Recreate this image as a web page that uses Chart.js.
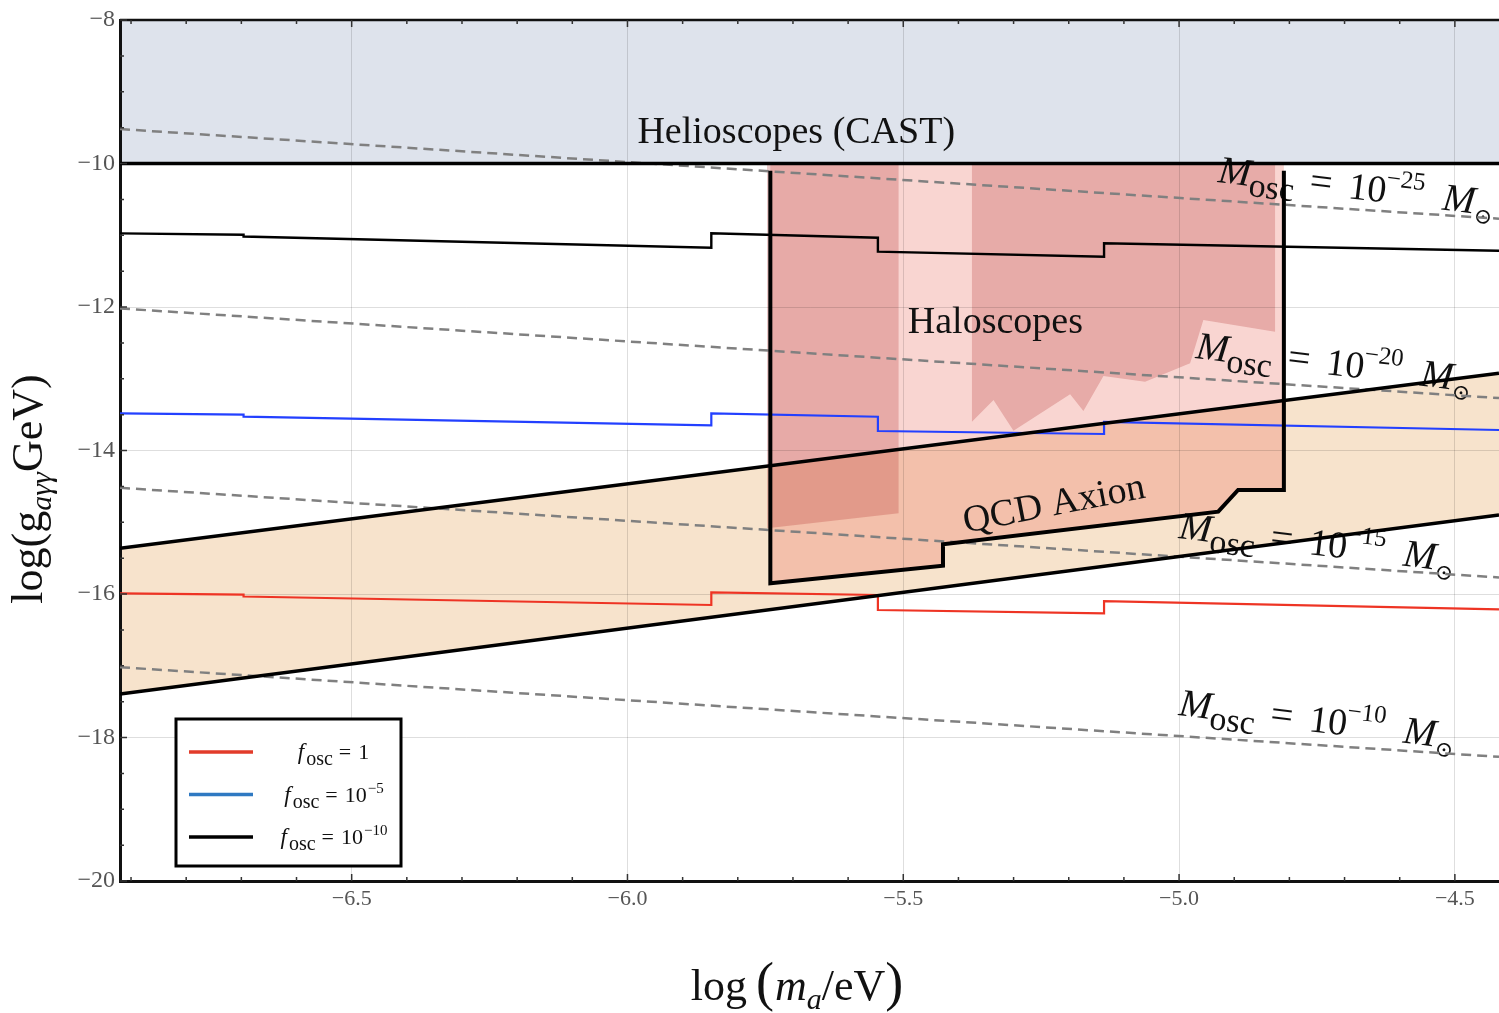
<!DOCTYPE html>
<html>
<head>
<meta charset="utf-8">
<title>Axion-photon coupling limits</title>
<script src="https://cdn.jsdelivr.net/npm/chart.js@4.4.1/dist/chart.umd.min.js"></script>
<style>
  html, body { margin: 0; padding: 0; background: #fff; }
  canvas { display: block; }
</style>
</head>
<body>
<canvas id="chart" width="1499" height="1013"></canvas>
<script>
// axis ranges and labelled ticks
const xRange = [-6.92, -4.42];
const yRange = [-20, -8];
const xTickLabels = [-6.5, -6.0, -5.5, -5.0, -4.5];
const yTickLabels = [-8, -10, -12, -14, -16, -18, -20];

// helioscope (CAST) bound
const helioX = [-6.92, -4.42];
const helioY = [-10, -10];

// QCD axion band edges
const qcdX = [-6.92, -4.42];
const qcdUpper = [-15.364, -12.923];
const qcdLower = [-17.394, -14.899];

// haloscope exclusion outline (open at the top)
const haloX = [-5.741, -5.741, -5.428, -5.428, -4.929, -4.893, -4.810, -4.810];
const haloY = [-10.10, -15.851, -15.606, -15.307, -14.853, -14.550, -14.550, -10.10];
const haloFillY = [-10.02, -15.851, -15.606, -15.307, -14.853, -14.550, -14.550, -10.02];

// darker haloscope patches
const darkAX = [-5.747, -5.747, -5.5085, -5.5085];
const darkAY = [-10.02, -15.084, -14.875, -10.02];
const darkBX = [-5.3755, -5.3755, -5.3364, -5.3002, -5.1975, -5.1734, -5.1371, -5.0616, -4.980, -4.956, -4.826, -4.826];
const darkBY = [-10.02, -13.598, -13.296, -13.724, -13.217, -13.449, -12.962, -13.041, -12.785, -12.181, -12.344, -10.02];

// constant oscillon-mass lines
const moscX = [-6.92, -4.42];
const mosc25 = [-9.52, -10.77];
const mosc20 = [-12.02, -13.27];
const mosc15 = [-14.52, -15.77];
const mosc10 = [-17.02, -18.27];

// f_osc curves
const foscX = [-6.92, -6.696, -6.696, -5.848, -5.848, -5.546, -5.546, -5.136, -5.136, -4.42];
const fosc1 = [-15.99, -16.008, -16.035, -16.153, -15.976, -16.014, -16.223, -16.27, -16.098, -16.214];
const fosc5 = [-13.482, -13.50, -13.527, -13.649, -13.482, -13.529, -13.728, -13.77, -13.60, -13.714];
const fosc10 = [-10.974, -10.992, -11.018, -11.173, -10.973, -11.034, -11.229, -11.299, -11.112, -11.215];

// text placed in data coordinates
const regionLabels = [
  { text: 'Helioscopes (CAST)', x: -5.694, y: -9.714, angle: 0 },
  { text: 'Haloscopes', x: -5.333, y: -12.362, angle: 0 },
  { text: 'QCD Axion', x: -5.223, y: -14.899, angle: -11 },
];
const moscLabels = [
  { exp: '\u221225', x: -4.931, y: -10.258 },
  { exp: '\u221220', x: -4.971, y: -12.711 },
  { exp: '\u221215', x: -5.002, y: -15.220 },
  { exp: '\u221210', x: -5.002, y: -17.686 },
];
const legendEntries = [
  { color: '#e23b2a', value: '1', exp: '' },
  { color: '#2f79c2', value: '10', exp: '\u22125' },
  { color: '#000000', value: '10', exp: '\u221210' },
];

const SERIF = "'Liberation Serif', 'Times New Roman', 'DejaVu Serif', serif";
const font = (size, italic) => (italic ? 'italic ' : '') + size + 'px ' + SERIF;
const pts = (xs, ys) => xs.map((x, i) => ({ x, y: ys[i] }));

function area(data, fill, color, order) {
  return { data, fill, backgroundColor: color, borderWidth: 0, order };
}
function line(data, color, width, order, dash) {
  return { data, fill: false, borderColor: color, borderWidth: width, borderDash: dash || [], order };
}

const datasets = [
  area(pts(helioX, helioY), 'end', '#dee3ec', 9),
  area(pts(qcdX, qcdUpper), '+1', '#f7e3cc', 8),
  area(pts(qcdX, qcdLower), false, 'rgba(0,0,0,0)', 8),
  area(pts(haloX, haloFillY), 'shape', 'rgba(232,93,78,0.26)', 7),
  area(pts(darkAX, darkAY), 'shape', 'rgba(177,45,45,0.26)', 6),
  area(pts(darkBX, darkBY), 'shape', 'rgba(177,45,45,0.25)', 5),
  line(pts(moscX, mosc25), '#808080', 2.5, 4, [10, 6]),
  line(pts(moscX, mosc20), '#808080', 2.5, 4, [10, 6]),
  line(pts(moscX, mosc15), '#808080', 2.5, 4, [10, 6]),
  line(pts(moscX, mosc10), '#808080', 2.5, 4, [10, 6]),
  line(pts(foscX, fosc1), '#ee3424', 2.2, 3),
  line(pts(foscX, fosc5), '#2340ff', 2.2, 3),
  line(pts(foscX, fosc10), '#000000', 2.4, 3),
  line(pts(qcdX, qcdUpper), '#000000', 3.5, 2),
  line(pts(qcdX, qcdLower), '#000000', 3.5, 2),
  line(pts(haloX, haloY), '#000000', 4, 1),
  line(pts(helioX, helioY), '#000000', 3.5, 0),
];

// draws a row of text pieces; each piece either follows the previous one or sits at a fixed offset
function drawPieces(ctx, pieces, x, y, angle, align) {
  ctx.save();
  ctx.translate(x, y);
  ctx.rotate(angle * Math.PI / 180);
  ctx.textAlign = 'left';
  ctx.textBaseline = 'alphabetic';
  let total = 0;
  const starts = pieces.map(p => {
    ctx.font = font(p.size, p.italic);
    const s = p.at !== undefined ? p.at : total;
    total = s + ctx.measureText(p.text).width + (p.gap || 0);
    return s;
  });
  const shift = align === 'center' ? -total / 2 : 0;
  pieces.forEach((p, i) => {
    ctx.font = font(p.size, p.italic);
    ctx.fillText(p.text, starts[i] + shift, p.dy || 0);
  });
  ctx.restore();
}

const decor = {
  id: 'decor',
  beforeDatasetsDraw(chart) {
    const { ctx, scales: { x, y } } = chart;
    ctx.save();
    ctx.fillStyle = '#111';
    regionLabels.forEach(l => {
      drawPieces(ctx, [{ text: l.text, size: 38 }], x.getPixelForValue(l.x), y.getPixelForValue(l.y), l.angle, 'center');
    });
    moscLabels.forEach(l => {
      drawPieces(ctx, [
        { text: 'M', at: 0, size: 39, italic: true },
        { text: 'osc', at: 32, size: 34, dy: 10 },
        { text: '=', at: 92, size: 40 },
        { text: '10', at: 131, size: 38 },
        { text: l.exp, at: 168, size: 25, dy: -17 },
        { text: 'M', at: 226, size: 39, italic: true },
        { text: '\u2299', at: 259, size: 22, dy: 9 },
      ], x.getPixelForValue(l.x), y.getPixelForValue(l.y), 7, 'left');
    });
    ctx.restore();
  },
  afterDraw(chart) {
    const { ctx, chartArea: a, scales: { x, y } } = chart;
    ctx.save();
    // top frame edge
    ctx.strokeStyle = '#111';
    ctx.lineWidth = 2.5;
    ctx.beginPath();
    ctx.moveTo(a.left, a.top);
    ctx.lineTo(a.right, a.top);
    ctx.stroke();

    // small tick marks along the frame
    ctx.lineWidth = 1.5;
    ctx.strokeStyle = '#333';
    ctx.beginPath();
    for (let k = Math.ceil(xRange[0] * 10); k <= Math.floor(xRange[1] * 10); k++) {
      const px = x.getPixelForValue(k / 10);
      const len = k % 5 === 0 ? 7 : 4;
      ctx.moveTo(px, a.bottom); ctx.lineTo(px, a.bottom - len);
      ctx.moveTo(px, a.top); ctx.lineTo(px, a.top + len);
    }
    for (let k = yRange[0] * 2; k <= yRange[1] * 2; k++) {
      const py = y.getPixelForValue(k / 2);
      const len = k % 4 === 0 ? 7 : 4;
      ctx.moveTo(a.left, py); ctx.lineTo(a.left + len, py);
    }
    ctx.stroke();

    // legend
    const lx = a.left + 56, ly = a.bottom - 162, lw = 225, lh = 147;
    ctx.fillStyle = '#fff';
    ctx.fillRect(lx, ly, lw, lh);
    ctx.strokeStyle = '#000';
    ctx.lineWidth = 3;
    ctx.strokeRect(lx, ly, lw, lh);
    legendEntries.forEach((e, i) => {
      const yy = ly + 33 + i * 42.5;
      ctx.strokeStyle = e.color;
      ctx.lineWidth = 3.5;
      ctx.beginPath();
      ctx.moveTo(lx + 13, yy);
      ctx.lineTo(lx + 77, yy);
      ctx.stroke();
      ctx.fillStyle = '#111';
      const parts = [
        { text: 'f', size: 23, italic: true, gap: 2 },
        { text: 'osc', size: 20, dy: 6, gap: 6 },
        { text: '=', size: 22, gap: 7 },
        { text: e.value, size: 22, gap: 1 },
      ];
      if (e.exp) parts.push({ text: e.exp, size: 15, dy: -9 });
      drawPieces(ctx, parts, lx + 158, yy + 7, 0, 'center');
    });

    // axis titles
    ctx.fillStyle = '#111';
    drawPieces(ctx, [
      { text: 'log', size: 44, gap: 9 },
      { text: '(', size: 54, gap: 1 },
      { text: 'm', size: 44, italic: true },
      { text: 'a', size: 30, italic: true, dy: 9 },
      { text: '/eV', size: 44 },
      { text: ')', size: 54 },
    ], 797, 1000, 0, 'center');
    drawPieces(ctx, [
      { text: 'log(g', size: 44 },
      { text: 'a\u03b3\u03b3', size: 30, italic: true, dy: 9 },
      { text: 'GeV)', size: 44 },
    ], 42, 489, -90, 'center');
    ctx.restore();
  }
};

const gridColor = 'rgba(0,0,0,0.13)';

new Chart(document.getElementById('chart'), {
  type: 'line',
  data: { datasets },
  options: {
    responsive: false,
    devicePixelRatio: 1,
    animation: false,
    events: [],
    layout: { padding: { top: 20, left: 0, right: 0, bottom: 0 } },
    elements: { point: { radius: 0 }, line: { tension: 0 } },
    plugins: {
      legend: { display: false },
      tooltip: { enabled: false },
      filler: { drawTime: 'beforeDraw' }
    },
    scales: {
      x: {
        type: 'linear',
        min: xRange[0],
        max: xRange[1],
        afterBuildTicks: s => { s.ticks = xTickLabels.map(v => ({ value: v })); },
        afterFit: s => { s.height = 132; },
        grid: { color: gridColor, lineWidth: 1, drawTicks: false },
        border: { color: '#111', width: 3 },
        ticks: {
          padding: 5,
          color: '#555',
          font: { family: SERIF, size: 22 },
          callback: v => '\u2212' + Math.abs(v).toFixed(1)
        }
      },
      y: {
        type: 'linear',
        min: yRange[0],
        max: yRange[1],
        afterBuildTicks: s => { s.ticks = yTickLabels.map(v => ({ value: v })); },
        afterFit: s => { s.width = 120; },
        grid: { color: gridColor, lineWidth: 1, drawTicks: false },
        border: { color: '#111', width: 3 },
        ticks: {
          padding: 5,
          color: '#555',
          font: { family: SERIF, size: 24 },
          callback: v => '\u2212' + Math.abs(v)
        }
      }
    }
  },
  plugins: [decor]
});
</script>
</body>
</html>
